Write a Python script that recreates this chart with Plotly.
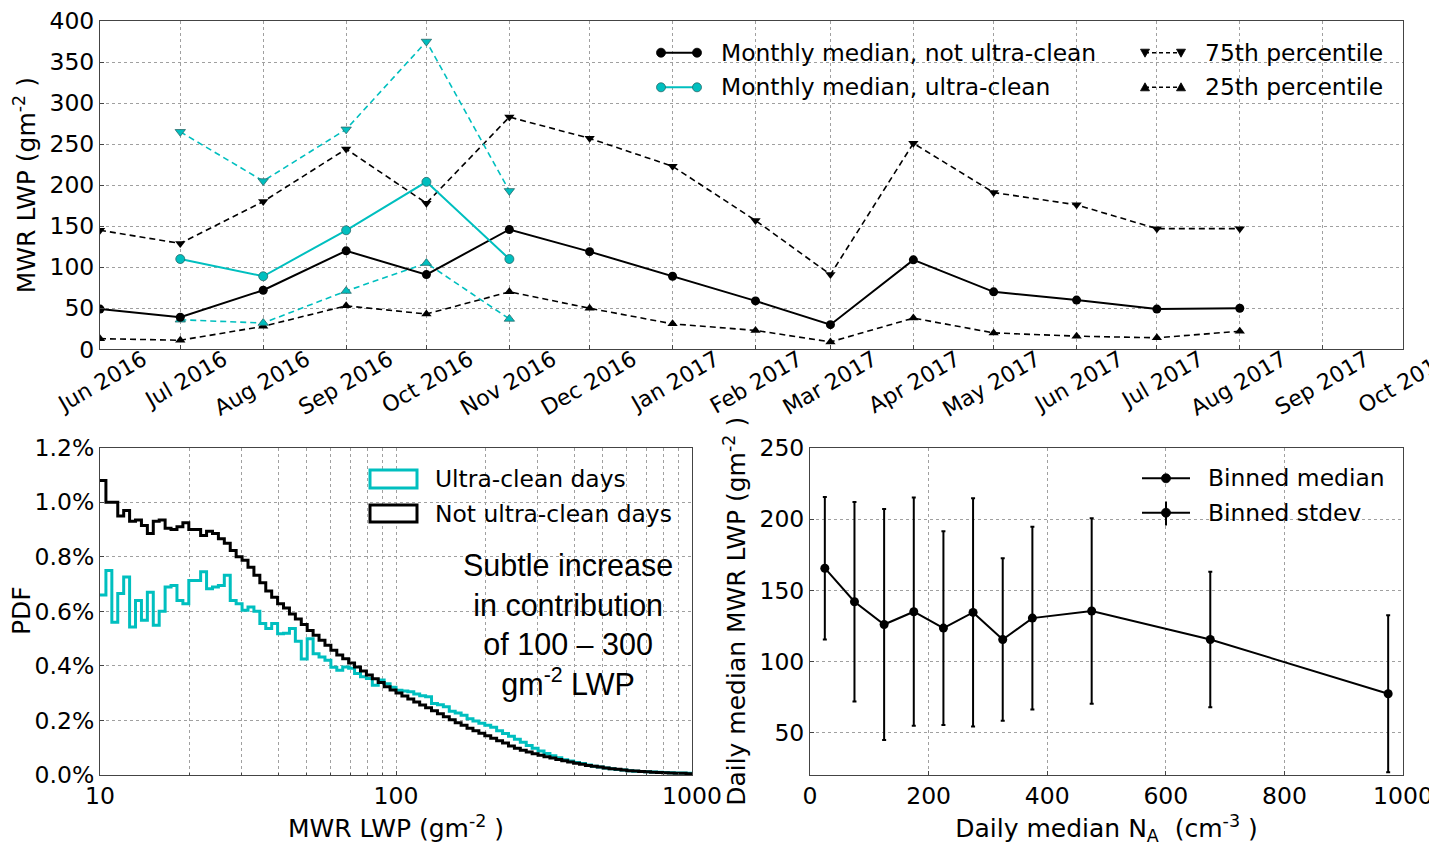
import numpy as np
import plotly.graph_objects as go

W, H = 1437, 863          # browser window
OFF = 8                   # default page body margin
FW, FH = W - OFF, H - OFF  # figure size
FONT = "DejaVu Sans"
CYAN = "#00bfbf"

# ---------------- top panel data ----------------
months = ["2016-06-01", "2016-07-01", "2016-08-01", "2016-09-01", "2016-10-01",
          "2016-11-01", "2016-12-01", "2017-01-01", "2017-02-01", "2017-03-01",
          "2017-04-01", "2017-05-01", "2017-06-01", "2017-07-01", "2017-08-01"]
median_not_clean = [49, 39, 72, 120, 91, 146, 119, 89, 59, 30, 109, 70, 60, 49, 50]
p75_not_clean = [145, 129, 180, 244, 178, 283, 257, 223, 157, 91, 251, 191, 176, 147, 147]
p25_not_clean = [13, 11, 28, 53, 43, 70, 50, 31, 23, 9, 38, 20, 16, 14, 22]

months_clean = ["2016-07-01", "2016-08-01", "2016-09-01", "2016-10-01", "2016-11-01"]
median_clean = [110, 89, 145, 204, 110]
p75_clean = [265, 205, 268, 375, 193]
p25_clean = [36, 32, 71, 105, 37]

tick_months = ["2016-06-01", "2016-07-01", "2016-08-01", "2016-09-01", "2016-10-01",
               "2016-11-01", "2016-12-01", "2017-01-01", "2017-02-01", "2017-03-01",
               "2017-04-01", "2017-05-01", "2017-06-01", "2017-07-01", "2017-08-01",
               "2017-09-01", "2017-10-01"]
tick_month_labels = ["Jun 2016", "Jul 2016", "Aug 2016", "Sep 2016", "Oct 2016",
                     "Nov 2016", "Dec 2016", "Jan 2017", "Feb 2017", "Mar 2017",
                     "Apr 2017", "May 2017", "Jun 2017", "Jul 2017", "Aug 2017",
                     "Sep 2017", "Oct 2017"]

# ---------------- bottom-left histogram data (PDF in %) ----------------
lwp_bin_edges = np.logspace(1, 3, 101)
pdf_not_clean = [
    1.08, 1.00, 1.00, 0.95, 0.97, 0.93, 0.935, 0.915, 0.885, 0.93,
    0.935, 0.905, 0.90, 0.91, 0.925, 0.90, 0.90, 0.878, 0.894, 0.885,
    0.866, 0.85, 0.823, 0.80, 0.787, 0.762, 0.732, 0.705, 0.675, 0.652,
    0.628, 0.612, 0.59, 0.572, 0.552, 0.530, 0.512, 0.494, 0.476, 0.457,
    0.440, 0.426, 0.411, 0.396, 0.381, 0.367, 0.353, 0.339, 0.324, 0.312,
    0.301, 0.290, 0.279, 0.268, 0.257, 0.247, 0.236, 0.225, 0.214, 0.203,
    0.192, 0.182, 0.171, 0.162, 0.153, 0.144, 0.135, 0.126, 0.117, 0.106,
    0.098, 0.091, 0.084, 0.078, 0.072, 0.067, 0.062, 0.057, 0.052, 0.048,
    0.043, 0.039, 0.035, 0.032, 0.029, 0.026, 0.023, 0.021, 0.018, 0.016,
    0.015, 0.013, 0.012, 0.010, 0.009, 0.008, 0.007, 0.006, 0.006, 0.005]
pdf_clean = [
    0.66, 0.75, 0.56, 0.665, 0.726, 0.543, 0.64, 0.567, 0.67, 0.549,
    0.60, 0.689, 0.695, 0.64, 0.628, 0.713, 0.713, 0.745, 0.683, 0.689,
    0.695, 0.732, 0.640, 0.628, 0.604, 0.616, 0.60, 0.555, 0.537, 0.555,
    0.518, 0.52, 0.537, 0.49, 0.425, 0.50, 0.445, 0.433, 0.421, 0.395,
    0.384, 0.396, 0.391, 0.372, 0.360, 0.354, 0.329, 0.348, 0.335, 0.322,
    0.311, 0.308, 0.305, 0.297, 0.291, 0.287, 0.262, 0.258, 0.250, 0.234,
    0.227, 0.219, 0.206, 0.198, 0.190, 0.182, 0.175, 0.162, 0.152, 0.142,
    0.131, 0.120, 0.108, 0.098, 0.088, 0.079, 0.071, 0.063, 0.056, 0.051,
    0.046, 0.042, 0.037, 0.032, 0.029, 0.026, 0.023, 0.020, 0.018, 0.016,
    0.014, 0.013, 0.012, 0.011, 0.010, 0.009, 0.008, 0.007, 0.007, 0.006]

# ---------------- bottom-right data ----------------
na_bins = [25, 75, 125, 175, 225, 275, 325, 375, 475, 675, 975]
lwp_binned_median = [165.5, 142, 126, 135, 123.5, 134.5, 115.5, 130.5, 135.5, 115.5, 77.5]
lwp_binned_stdev = [50, 70, 81, 80, 68, 80, 57, 64, 65, 47.5, 55]


def px(x):
    return (x - OFF) / FW


def py(y):
    return 1 - (y - OFF) / FH


fig = go.Figure()

# top panel traces
fig.add_trace(go.Scatter(x=months, y=p75_not_clean, mode="lines+markers",
                         line=dict(color="black", width=1.6, dash="6px,4px"),
                         marker=dict(symbol="triangle-down", size=9, color="black"),
                         xaxis="x", yaxis="y", showlegend=False))
fig.add_trace(go.Scatter(x=months, y=p25_not_clean, mode="lines+markers",
                         line=dict(color="black", width=1.6, dash="6px,4px"),
                         marker=dict(symbol="triangle-up", size=9, color="black"),
                         xaxis="x", yaxis="y", showlegend=False))
fig.add_trace(go.Scatter(x=months_clean, y=p75_clean, mode="lines+markers",
                         line=dict(color=CYAN, width=1.6, dash="6px,4px"),
                         marker=dict(symbol="triangle-down", size=9, color=CYAN,
                                     line=dict(color="#2a6a6a", width=0.8)),
                         xaxis="x", yaxis="y", showlegend=False))
fig.add_trace(go.Scatter(x=months_clean, y=p25_clean, mode="lines+markers",
                         line=dict(color=CYAN, width=1.6, dash="6px,4px"),
                         marker=dict(symbol="triangle-up", size=9, color=CYAN,
                                     line=dict(color="#2a6a6a", width=0.8)),
                         xaxis="x", yaxis="y", showlegend=False))
fig.add_trace(go.Scatter(x=months, y=median_not_clean, mode="lines+markers",
                         line=dict(color="black", width=2),
                         marker=dict(symbol="circle", size=9, color="black"),
                         xaxis="x", yaxis="y", showlegend=False))
fig.add_trace(go.Scatter(x=months_clean, y=median_clean, mode="lines+markers",
                         line=dict(color=CYAN, width=2),
                         marker=dict(symbol="circle", size=9, color=CYAN,
                                     line=dict(color="#2a6a6a", width=0.8)),
                         xaxis="x", yaxis="y", showlegend=False))

# bottom-left histograms
edges = list(lwp_bin_edges)
fig.add_trace(go.Scatter(x=edges, y=pdf_clean + [pdf_clean[-1]], mode="lines",
                         line=dict(color=CYAN, width=3, shape="hv"),
                         xaxis="x2", yaxis="y2", showlegend=False))
fig.add_trace(go.Scatter(x=edges, y=pdf_not_clean + [pdf_not_clean[-1]], mode="lines",
                         line=dict(color="black", width=3, shape="hv"),
                         xaxis="x2", yaxis="y2", showlegend=False))

# bottom-right binned
fig.add_trace(go.Scatter(x=na_bins, y=lwp_binned_median, mode="lines+markers",
                         line=dict(color="black", width=2),
                         marker=dict(symbol="circle", size=9, color="black"),
                         error_y=dict(type="data", array=lwp_binned_stdev, visible=True,
                                      color="black", thickness=2, width=2),
                         xaxis="x3", yaxis="y3", showlegend=False))

axis_common = dict(showline=True, linecolor="#444", linewidth=1, mirror=True,
                   showgrid=True, gridcolor="#a0a0a0", griddash="dot", gridwidth=1,
                   ticks="inside", ticklen=4, tickcolor="#444", zeroline=False,
                   automargin=False, ticklabeloverflow="allow")
tf = dict(family=FONT, size=23.5, color="black")
TITLE_SIZE = 25

fig.update_layout(
    width=FW, height=FH, margin=dict(l=0, r=0, t=0, b=0, autoexpand=False),
    paper_bgcolor="white", plot_bgcolor="white",
    font=dict(family=FONT, color="black"),
    xaxis=dict(domain=[px(100), px(1403)], anchor="y", type="date",
               range=["2016-06-01", "2017-10-01"],
               tickmode="array", tickvals=tick_months, ticktext=tick_month_labels,
               tickangle=-30, ticklabelshift=43, ticklabelstandoff=-12,
               tickfont=dict(family=FONT, size=22, color="black"),
               **axis_common),
    yaxis=dict(domain=[py(349.3), py(21)], anchor="x", range=[0, 400], dtick=50,
               tickfont=tf,
               title=dict(text="MWR LWP (gm<sup>-2</sup> )", font=dict(size=TITLE_SIZE),
                          standoff=6),
               **axis_common),
    xaxis2=dict(domain=[px(100), px(692)], anchor="y2", type="log", range=[1, 3],
                tickmode="array", tickvals=[10, 100, 1000], ticktext=["10", "100", "1000"],
                tickfont=tf,
                minor=dict(tickvals=[20, 30, 40, 50, 60, 70, 80, 90,
                                     200, 300, 400, 500, 600, 700, 800, 900],
                           showgrid=True, gridcolor="#a0a0a0", griddash="dot",
                           ticks="inside", ticklen=2, tickcolor="#444"),
                title=dict(text="MWR LWP (gm<sup>-2</sup> )", font=dict(size=TITLE_SIZE),
                           standoff=10),
                **axis_common),
    yaxis2=dict(domain=[py(775), py(447.7)], anchor="x2", range=[0, 1.2],
                tickmode="array", tickvals=[0, 0.2, 0.4, 0.6, 0.8, 1.0, 1.2],
                ticktext=["0.0%", "0.2%", "0.4%", "0.6%", "0.8%", "1.0%", "1.2%"],
                tickfont=tf,
                **axis_common),
    xaxis3=dict(domain=[px(810), px(1403)], anchor="y3", range=[0, 1000], dtick=200,
                tickfont=tf,
                title=dict(text="Daily median N<sub>A</sub>  (cm<sup>-3</sup> )",
                           font=dict(size=TITLE_SIZE), standoff=10),
                **axis_common),
    yaxis3=dict(domain=[py(775), py(447.7)], anchor="x3", range=[20.5, 250],
                tickmode="array", tickvals=[50, 100, 150, 200, 250],
                tickfont=tf,
                title=dict(text="Daily median MWR LWP (gm<sup>-2</sup> )",
                           font=dict(size=TITLE_SIZE), standoff=6),
                **axis_common),
)

shapes = []
annotations = []
LEG = 23.4


def legend_text(x, y, text, size=LEG):
    annotations.append(dict(x=px(x), y=py(y), xref="paper", yref="paper", text=text,
                            showarrow=False, xanchor="left", yanchor="middle",
                            font=dict(family=FONT, size=size, color="black")))


def legend_line(x0, x1, y, color, width=2, dash="solid"):
    shapes.append(dict(type="line", xref="paper", yref="paper", x0=px(x0), x1=px(x1),
                       y0=py(y), y1=py(y), line=dict(color=color, width=width, dash=dash)))


def legend_marker(x, y, kind, color, edge=None, r=4.5):
    base = dict(xref="paper", yref="paper", xsizemode="pixel", ysizemode="pixel",
                xanchor=px(x), yanchor=py(y), fillcolor=color,
                line=dict(color=edge or color, width=0.8))
    if kind == "circle":
        base.update(type="circle", x0=-r, x1=r, y0=-r, y1=r)
    elif kind == "down":
        base.update(type="path", path="M -4.5,3.5 L 4.5,3.5 L 0,-4.5 Z")
    else:
        base.update(type="path", path="M -4.5,-3.5 L 4.5,-3.5 L 0,4.5 Z")
    shapes.append(base)


# top legend, column 1
legend_line(661, 697, 52.7, "black", 2)
legend_marker(661, 52.7, "circle", "black")
legend_marker(697, 52.7, "circle", "black")
legend_text(719, 52.7, "Monthly median, not ultra-clean")
legend_line(661, 697, 87.3, CYAN, 2)
legend_marker(661, 87.3, "circle", CYAN, "#2a6a6a")
legend_marker(697, 87.3, "circle", CYAN, "#2a6a6a")
legend_text(719, 87.3, "Monthly median, ultra-clean")
# top legend, column 2
legend_line(1145, 1181, 52.7, "black", 1.6, "4px,3px")
legend_marker(1145, 52.7, "down", "black")
legend_marker(1181, 52.7, "down", "black")
legend_text(1203, 52.7, "75th percentile")
legend_line(1145, 1181, 87.3, "black", 1.6, "4px,3px")
legend_marker(1145, 87.3, "up", "black")
legend_marker(1181, 87.3, "up", "black")
legend_text(1203, 87.3, "25th percentile")

# bottom-left legend (outlined patches)
shapes.append(dict(type="rect", xref="paper", yref="paper", x0=px(370), x1=px(417),
                   y0=py(488), y1=py(470), line=dict(color=CYAN, width=3), fillcolor="white"))
legend_text(433, 479, "Ultra-clean days")
shapes.append(dict(type="rect", xref="paper", yref="paper", x0=px(370), x1=px(417),
                   y0=py(522), y1=py(505), line=dict(color="black", width=3), fillcolor="white"))
legend_text(433, 514, "Not ultra-clean days")

# bottom-right legend
legend_line(1142, 1190, 478.3, "black", 2)
legend_marker(1166, 478.3, "circle", "black")
legend_text(1206, 478.3, "Binned median")
legend_line(1142, 1190, 512.7, "black", 2)
shapes.append(dict(type="line", xref="paper", yref="paper", x0=px(1166), x1=px(1166),
                   y0=py(501.5), y1=py(525.5), line=dict(color="black", width=2)))
legend_marker(1166, 512.7, "circle", "black")
legend_text(1206, 512.7, "Binned stdev")

# y title of the PDF panel
annotations.append(dict(x=px(21), y=py(611), xref="paper", yref="paper", text="PDF",
                        showarrow=False, textangle=-90, xanchor="center", yanchor="middle",
                        font=dict(family=FONT, size=TITLE_SIZE, color="black")))

# annotation in the PDF panel
annotations.append(dict(x=px(568), y=py(624.5), xref="paper", yref="paper",
                        text="Subtle increase<br>in contribution<br>of 100 – 300<br>gm<sup>-2</sup> LWP",
                        showarrow=False, xanchor="center", yanchor="middle", align="center",
                        font=dict(family="Liberation Sans", size=30.5, color="black")))

fig.update_layout(shapes=shapes, annotations=annotations)
fig.write_html("out.html")
